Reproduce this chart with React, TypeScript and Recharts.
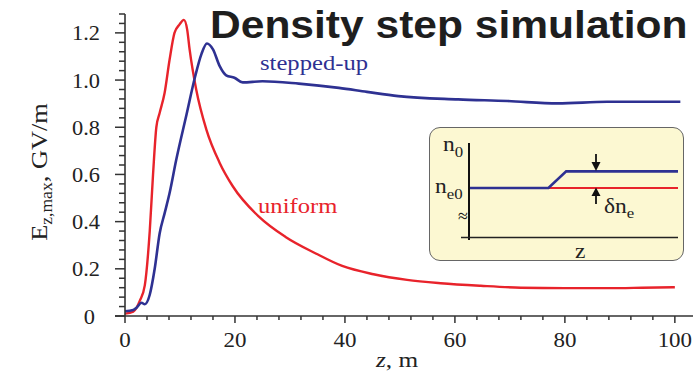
import React from 'react';
import { LineChart, Line, XAxis, YAxis } from 'recharts';

// uniform plasma: peak field vs distance
const uniformZ = [0, 1.5, 2.7, 3.6, 4.5, 5.1, 5.7, 6.3, 7.2, 8.1, 9.0, 9.9, 10.7, 11.3, 11.75, 12.95, 14.8, 17.2, 19.6, 24.4, 29.2, 34.7, 39.5, 45.2, 51.3, 57.4, 64.7, 72, 80, 90, 94, 100];
const uniformE = [0.01, 0.018, 0.065, 0.13, 0.36, 0.6, 0.8, 0.86, 0.945, 1.085, 1.2, 1.235, 1.255, 1.215, 1.13, 0.96, 0.79, 0.65, 0.55, 0.42, 0.335, 0.265, 0.212, 0.177, 0.153, 0.139, 0.128, 0.12, 0.118, 0.118, 0.12, 0.122];

// stepped-up density
const steppedZ = [0, 1.5, 2.1, 3.0, 3.6, 4.5, 5.4, 6.3, 7.2, 8.1, 9.3, 11.2, 12.7, 13.9, 14.9, 16.0, 17.2, 18.4, 19.9, 21.4, 25, 31.6, 38.9, 44, 49.7, 60.6, 69.6, 78.7, 87.7, 101];
const steppedE = [0.02, 0.025, 0.035, 0.056, 0.05, 0.09, 0.2, 0.35, 0.435, 0.52, 0.66, 0.855, 1.01, 1.11, 1.155, 1.13, 1.06, 1.02, 1.01, 0.99, 0.995, 0.985, 0.967, 0.95, 0.932, 0.918, 0.911, 0.901, 0.908, 0.908];

const xMajor = [0, 20, 40, 60, 80, 100];
const yMajor = [0, 0.2, 0.4, 0.6, 0.8, 1.0, 1.2];
const xTicks = Array.from({ length: 26 }, (_, i) => i * 4);
const yTicks = Array.from({ length: 33 }, (_, i) => Math.round(i * 4) / 100);

// inset schematic: density profiles
const insetBlueZ = [0, 3.8, 4.65, 10];
const insetBlueN = [0, 0, 1, 1];
const insetRedZ = [3.8, 10];
const insetRedN = [0, 0];

const RED = '#e8232b';
const BLUE = '#2e3192';
const AXIS = '#333';
const SERIF = '"Liberation Serif", "Times New Roman", serif';
const SX = 1.12;

const uniformData = uniformZ.map((z, i) => ({ z, e: uniformE[i] }));
const steppedData = steppedZ.map((z, i) => ({ z, e: steppedE[i] }));
const insetBlue = insetBlueZ.map((z, i) => ({ z, n: insetBlueN[i] }));
const insetRed = insetRedZ.map((z, i) => ({ z, n: insetRedN[i] }));

const isMajor = (v: number, list: number[]) => list.some((m) => Math.abs(m - v) < 1e-6);

function YTick(props: any) {
  const { x, y, payload } = props;
  const v = payload.value;
  const major = isMajor(v, yMajor);
  const label = v === 0 ? '0' : v.toFixed(1);
  return (
    <g>
      <line x1={x - (major ? 10 : 6)} x2={x} y1={y} y2={y} stroke={AXIS} strokeWidth={1.5} />
      {major && (
        <text
          transform={`translate(${x - 25 - (v === 0 ? 5 : 0)} ${y + 7.5}) scale(${SX} 1)`}
          textAnchor="end"
          fontFamily={SERIF}
          fontSize={20}
          fill="#222"
        >
          {label}
        </text>
      )}
    </g>
  );
}

function XTick(props: any) {
  const { x, y, payload } = props;
  const v = payload.value;
  const major = isMajor(v, xMajor);
  return (
    <g>
      <line x1={x} x2={x} y1={y} y2={y + (major ? 7 : 4)} stroke={AXIS} strokeWidth={1.5} />
      {major && (
        <text
          transform={`translate(${x} ${y + 30.5}) scale(${SX} 1)`}
          textAnchor="middle"
          fontFamily={SERIF}
          fontSize={20.5}
          fill="#222"
        >
          {v}
        </text>
      )}
    </g>
  );
}

export default function App() {
  return (
    <div style={{ position: 'absolute', left: 0, top: 0, width: 697, height: 380, background: '#fff' }}>
      <LineChart width={697} height={380} margin={{ top: 14, right: 4, bottom: 24, left: 30 }}>
        <XAxis
          type="number"
          dataKey="z"
          domain={[0, 103.3]}
          ticks={xTicks}
          interval={0}
          height={40}
          tickSize={0}
          tickMargin={0}
          tickLine={false}
          tick={<XTick />}
          axisLine={{ stroke: AXIS, strokeWidth: 1.6 }}
          allowDuplicatedCategory={false}
        />
        <YAxis
          type="number"
          domain={[0, 1.28]}
          ticks={yTicks}
          interval={0}
          width={95}
          tickSize={0}
          tickMargin={0}
          tickLine={false}
          tick={<YTick />}
          axisLine={{ stroke: AXIS, strokeWidth: 1.6 }}
        />
        <Line data={uniformData} dataKey="e" type="monotone" stroke={RED} strokeWidth={2.4} dot={false} isAnimationActive={false} />
        <Line data={steppedData} dataKey="e" type="monotone" stroke={BLUE} strokeWidth={2.6} dot={false} isAnimationActive={false} />
      </LineChart>

      {/* inset box */}
      <div
        style={{
          position: 'absolute',
          left: 429,
          top: 127,
          width: 253,
          height: 132,
          background: '#fcf8d2',
          border: '1.5px solid #666',
          borderRadius: 11,
        }}
      />
      <div style={{ position: 'absolute', left: 469, top: 143 }}>
        <LineChart width={209} height={95} margin={{ top: 0, right: 0, bottom: 0, left: 0 }}>
          <XAxis hide type="number" dataKey="z" domain={[0, 10]} />
          <YAxis hide type="number" domain={[-3, 2.7]} />
          <Line data={insetRed} dataKey="n" type="linear" stroke={RED} strokeWidth={2} dot={false} isAnimationActive={false} />
          <Line data={insetBlue} dataKey="n" type="linear" stroke={BLUE} strokeWidth={2.6} dot={false} isAnimationActive={false} />
        </LineChart>
      </div>

      <svg width={697} height={380} style={{ position: 'absolute', left: 0, top: 0, pointerEvents: 'none' }}>
        {/* x axis line runs a little past the y axis */}
        <line x1={115} x2={125} y1={316} y2={316} stroke={AXIS} strokeWidth={1.6} />
        <text
          transform={`translate(210 38) scale(${SX} 1)`}
          fontFamily='"Liberation Sans", Arial, sans-serif'
          fontWeight="bold"
          fontSize={38}
          fill="#1e1e1e"
        >
          Density step simulation
        </text>
        <text transform={`translate(260 70) scale(${SX} 1)`} fontFamily={SERIF} fontSize={22} fill={BLUE}>
          stepped-up
        </text>
        <text transform={`translate(258 213) scale(${SX} 1)`} fontFamily={SERIF} fontSize={22} fill={RED}>
          uniform
        </text>
        <text
          transform={`translate(47 172) rotate(-90) scale(1.1 1)`}
          textAnchor="middle"
          fontFamily={SERIF}
          fontSize={24}
          fill="#222"
        >
          E<tspan fontSize={16} dy={5}>z,max</tspan>
          <tspan dy={-5}>, GV/m</tspan>
        </text>
        <text transform={`translate(397 366.5) scale(1.15 1)`} textAnchor="middle" fontFamily={SERIF} fontSize={22} fill="#222">
          <tspan fontStyle="italic">z</tspan>, m
        </text>

        {/* inset schematic axes and marks */}
        <line x1={469} x2={469} y1={143} y2={240} stroke="#111" strokeWidth={2} />
        <line x1={461} x2={678} y1={237.5} y2={237.5} stroke="#222" strokeWidth={1.5} />
        <line x1={596} x2={596} y1={154} y2={164} stroke="#111" strokeWidth={1.8} />
        <polygon points="591.5,162 600.5,162 596,171" fill="#111" />
        <line x1={596} x2={596} y1={195} y2={204} stroke="#111" strokeWidth={1.8} />
        <polygon points="591.5,196 600.5,196 596,187.5" fill="#111" />
        <text x={458} y={222} fontFamily={SERIF} fontSize={18} fill="#111">≈</text>
        <g fontFamily={SERIF} fill="#222">
          <text transform={`translate(443 150.5) scale(${SX} 1)`} fontSize={21}>
            n<tspan fontSize={15} dy={6}>0</tspan>
          </text>
          <text transform={`translate(435 192.5) scale(${SX} 1)`} fontSize={21}>
            n<tspan fontSize={15} dy={6}>e0</tspan>
          </text>
          <text transform={`translate(604 213) scale(${SX} 1)`} fontSize={21}>
            δn<tspan fontSize={15} dy={5}>e</tspan>
          </text>
          <text transform={`translate(575 258) scale(${SX} 1)`} fontSize={21}>
            z
          </text>
        </g>
      </svg>
    </div>
  );
}
